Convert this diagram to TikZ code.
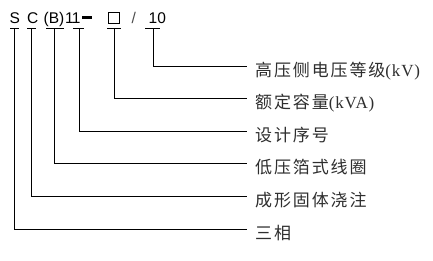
\documentclass[tikz,border=0pt]{standalone}
\usepackage{fontspec}
\setmainfont{Liberation Serif}
\newfontfamily\cjk[LetterSpace=11]{Noto Sans CJK SC}
\newfontfamily\lat[LetterSpace=5]{Liberation Serif}
\newfontfamily\topfont{Liberation Sans}
\begin{document}
\begin{tikzpicture}[x=1pt,y=-1pt,
  code/.style={anchor=base west, inner sep=0pt, font=\topfont\fontsize{15.5}{15.5}\selectfont},
  lbl/.style={anchor=base west, inner sep=0pt, text=black!82, font=\cjk\fontsize{17}{17}\selectfont},
  wire/.style={line width=0.9pt},
]
\useasboundingbox (0,0) rectangle (433,260);
% code string
\node[code] (S) at (9.5,23) {S};
\node[code] (C) at (27,23) {C};
\node[code] (B) at (43.5,23) {(B)};
\node[code] (N) at (65,23) {1\kern-2pt 1};
\node[fill=black, minimum width=10pt, minimum height=2.8pt, inner sep=0pt] (D) at (87,17.5) {};
\node[draw, line width=0.5pt, minimum width=10.5pt, minimum height=10.5pt, inner sep=0pt, anchor=south west] (X) at (108,23) {};
\node[code, text=black!70] (SL) at (131.5,23) {/};
\node[code] (T) at (148.5,23) {10};
% underline and bend coordinates
\foreach \n/\a/\b/\v/\y in {S/10/19/14/229, C/27/36/31/196.4, B/46/64/54/163.8, N/73/84/79/131.2, X/107/121/114/98.6, T/145/160/153/66}{
  \coordinate (u\n1) at (\a,28.5);
  \coordinate (u\n2) at (\b,28.5);
  \coordinate (v\n) at (\v,28.5);
  \coordinate (e\n) at (247,\y);
  \draw[wire] (u\n1) -- (u\n2);
  \draw[wire] (v\n) |- (e\n);
}
% labels
\node[lbl] (lT) at (255,76) {高压侧电压等级{\lat(kV)}};
\node[lbl] (lX) at (255,108.6) {额定容量{\lat(kVA)}};
\node[lbl] (lN) at (255,141.2) {设计序号};
\node[lbl] (lB) at (255,173.8) {低压箔式线圈};
\node[lbl] (lC) at (255,206.4) {成形固体浇注};
\node[lbl] (lS) at (255,239) {三相};
\end{tikzpicture}
\end{document}
